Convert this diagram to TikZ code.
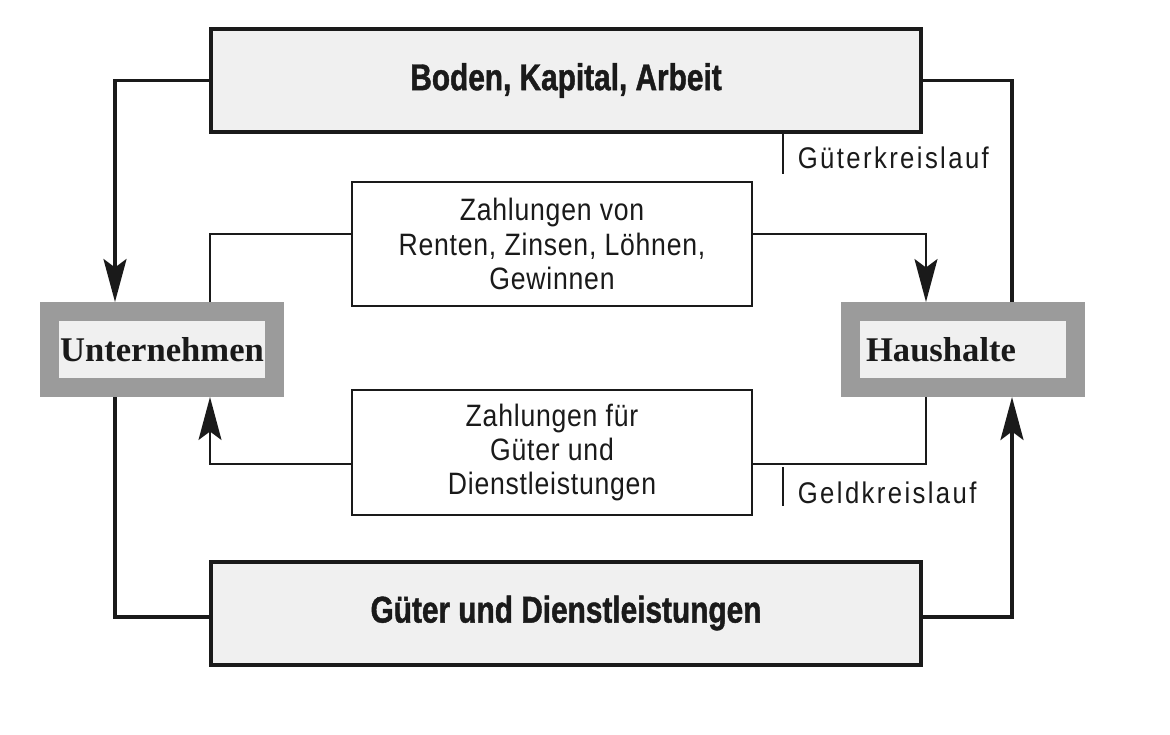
\documentclass[tikz,border=0pt]{standalone}
\usepackage{fontspec}
\setmainfont{Liberation Sans}
\newfontfamily\condfont{Liberation Sans}[FakeStretch=0.86,LetterSpace=2.5]
\newfontfamily\kreisfont{Liberation Sans}[FakeStretch=0.86,LetterSpace=8]
\newfontfamily\condbold{Liberation Sans}[FakeStretch=0.8,FakeBold=1.2]
\newfontfamily\sektorfont{Liberation Serif}
\usetikzlibrary{arrows.meta}
\definecolor{ink}{RGB}{26,26,26}
\definecolor{boxfill}{RGB}{240,240,240}
\definecolor{rahmen}{RGB}{155,155,155}

\begin{document}
\begin{tikzpicture}[color=ink, line join=miter,
  tip/.style={-{Stealth[length=0.86cm, width=0.46cm, inset=0.17cm]}},
  dick/.style={line width=0.07cm},
  duenn/.style={line width=0.04cm},
  strom/.style={draw=ink, fill=boxfill, line width=0.08cm, minimum width=14.2cm,
                minimum height=2.06cm, font=\condbold\bfseries\fontsize{21.2}{25}\selectfont},
  zahlung/.style={draw=ink, fill=white, line width=0.04cm, minimum width=8cm,
                minimum height=2.48cm, align=center, font=\condfont\fontsize{17.6}{19.5}\selectfont},
  sektor/.style={draw=rahmen, fill=boxfill, line width=0.38cm, minimum width=4.5cm,
                minimum height=1.52cm, inner sep=0pt, font=\sektorfont\bfseries\fontsize{19.7}{22}\selectfont},
  kreis/.style={anchor=base west, inner sep=0pt, font=\kreisfont\fontsize{17}{19.5}\selectfont}]

\useasboundingbox (0,0) rectangle (23.4,-14.68);

% Gueterkreislauf
\node[strom] (boden) at (11.32,-1.61) {Boden, Kapital, Arbeit};
\node[strom] (gueter) at (11.32,-12.26) {Güter und Dienstleistungen};

\node[sektor] (unt) at (3.24,-6.99) {Unternehmen};
\node[sektor, inner xsep=0.32cm, text width=3.86cm, align=left] (haus) at (19.25,-6.99) {Haushalte};

% Geldkreislauf
\node[zahlung] (renten) at (11.04,-4.88) {Zahlungen von\\Renten, Zinsen, Löhnen,\\Gewinnen};
\node[zahlung, minimum height=2.5cm] (kaeufe) at (11.04,-9.05) {Zahlungen für\\Güter und\\Dienstleistungen};

\node[kreis] (gkl) at (15.95,-3.36) {Güterkreislauf};
\node[kreis] (geld) at (15.95,-10.06) {Geldkreislauf};

\draw[duenn] ([xshift=4.34cm]boden.south) -- ++(0,-0.8);
\draw[duenn] (15.66,-9.34) -- (15.66,-10.12);

\draw[dick, tip] (boden.west) -| ([xshift=-0.94cm]unt.north);
\draw[dick] ([xshift=0.99cm]haus.north) |- (boden.east);
\draw[dick] ([xshift=-0.94cm]unt.south) |- ([yshift=-0.08cm]gueter.west);
\draw[dick, tip] ([yshift=-0.08cm]gueter.east) -| ([xshift=0.99cm]haus.south);

\draw[duenn] ([xshift=0.96cm]unt.north) |- ([yshift=0.2cm]renten.west);
\draw[duenn, tip] ([yshift=0.2cm]renten.east) -| ([xshift=-0.73cm]haus.north);
\draw[duenn] ([xshift=-0.73cm]haus.south) |- ([yshift=-0.23cm]kaeufe.east);
\draw[duenn, tip] ([yshift=-0.23cm]kaeufe.west) -| ([xshift=0.96cm]unt.south);

\end{tikzpicture}
\end{document}
